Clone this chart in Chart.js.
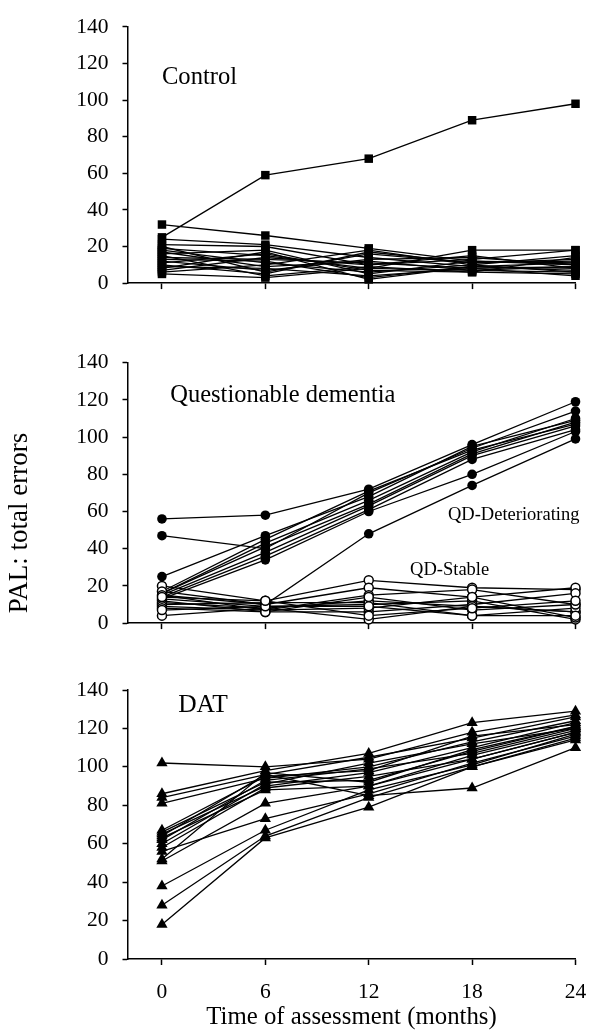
<!DOCTYPE html>
<html>
<head>
<meta charset="utf-8">
<script src="https://cdn.jsdelivr.net/npm/chart.js@4.4.1/dist/chart.umd.min.js"></script>
<style>
  body { margin: 0; background: #fff; }
  #wrap { position: relative; width: 595px; height: 1032px; }
  canvas { position: absolute; left: 0; }
</style>
</head>
<body>
<div id="wrap">
  <canvas id="control" width="595" height="310" style="top:0"></canvas>
  <canvas id="qd" width="595" height="340" style="top:310px"></canvas>
  <canvas id="dat" width="595" height="382" style="top:650px"></canvas>
</div>
<script>
// assessment times (months)
const months = [0, 6, 12, 18, 24];
const yTicks = [0, 20, 40, 60, 80, 100, 120, 140];

// PAL total errors per subject, one row per subject (0, 6, 12, 18, 24 months)
const controlErrors = [
  [32, 26, 19, 12, 10],
  [25, 59, 68, 89, 98],
  [24, 21, 14, 9, 8],
  [21, 20, 10, 13, 18],
  [20, 6, 16, 11, 12],
  [19, 15, 8, 18, 18],
  [18, 11, 6, 10, 6],
  [17, 9, 12, 7, 9],
  [16, 18, 5, 12, 11],
  [15, 4, 9, 6, 14],
  [14, 13, 11, 8, 4],
  [13, 12, 3, 9, 7],
  [12, 7, 13, 14, 10],
  [11, 16, 7, 6, 5],
  [10, 5, 17, 11, 13],
  [9, 8, 4, 8, 9],
  [7, 14, 10, 15, 8],
  [6, 10, 18, 10, 15],
  [5, 3, 8, 7, 6],
  [8, 17, 2, 9, 11]
];

const qdDeteriorating = [
  [56, 58, 72, 96, 119],
  [47, 40, 70, 94, 114],
  [25, 47, 68, 95, 109],
  [17, 45, 71, 93, 107],
  [16, 43, 66, 92, 110],
  [15, 38, 63, 90, 106],
  [14, 36, 61, 88, 104],
  [13, 34, 60, 80, 103],
  [16, 41, 64, 91, 108],
  [15, 10, 48, 74, 99]
];

const qdStable = [
  [4, 8, 12, 9, 6],
  [20, 12, 23, 19, 18],
  [17, 10, 19, 14, 19],
  [15, 7, 15, 18, 10],
  [13, 9, 10, 12, 2],
  [12, 6, 6, 10, 16],
  [11, 8, 2, 9, 6],
  [10, 11, 11, 4, 8],
  [9, 7, 8, 14, 3],
  [8, 6, 14, 7, 10],
  [7, 9, 9, 4, 4],
  [14, 12, 4, 8, 12]
];

const datErrors = [
  [102, 100, 104, 118, 127],
  [86, 98, 107, 123, 129],
  [84, 96, 105, 115, 126],
  [81, 94, 100, 113, 124],
  [67, 95, 98, 116, 122],
  [66, 92, 93, 108, 121],
  [65, 90, 97, 110, 123],
  [63, 88, 90, 106, 119],
  [60, 91, 102, 112, 120],
  [58, 89, 95, 104, 118],
  [56, 73, 86, 102, 116],
  [52, 97, 92, 109, 121],
  [51, 81, 90, 104, 118],
  [62, 93, 99, 107, 120],
  [64, 96, 85, 89, 110],
  [38, 67, 88, 101, 117],
  [28, 64, 84, 100, 114],
  [18, 63, 79, 100, 115]
];

const serif = 'Liberation Serif';

// text notes placed in data coordinates, plus an optional rotated axis caption
const notes = {
  id: 'notes',
  afterDraw(chart, args, opts) {
    const { ctx } = chart;
    const { x, y } = chart.scales;
    ctx.save();
    ctx.fillStyle = '#000';
    ctx.textBaseline = 'alphabetic';
    ctx.textAlign = 'left';
    (opts.items || []).forEach(n => {
      ctx.font = n.size + 'px "' + serif + '"';
      ctx.fillText(n.text, x.getPixelForValue(n.x), y.getPixelForValue(n.y));
    });
    if (opts.yTitle) {
      const t = opts.yTitle;
      ctx.font = t.size + 'px "' + serif + '"';
      ctx.translate(t.px, t.py);
      ctx.rotate(-Math.PI / 2);
      ctx.textAlign = 'center';
      ctx.textBaseline = 'middle';
      ctx.fillText(t.text, 0, 0);
    }
    ctx.restore();
  }
};

function toPoints(row) {
  return row.map((v, i) => ({ x: months[i], y: v }));
}

function lineSets(rows) {
  return rows.map(r => ({
    data: toPoints(r),
    showLine: true,
    borderColor: '#000',
    borderWidth: 1.3,
    pointRadius: 0,
    order: 1,
    clip: false
  }));
}

function markSet(rows, style) {
  return Object.assign({
    data: rows.flatMap(toPoints),
    showLine: false,
    order: 0,
    clip: false
  }, style);
}

function scalesFor(showX, xHeight) {
  return {
    x: {
      type: 'linear',
      min: -2,
      max: 24,
      afterBuildTicks: s => { s.ticks = months.map(v => ({ value: v })); },
      afterFit: s => {
        s.height = xHeight;
        s.paddingLeft = 0;
        s.paddingRight = 0;
      },
      grid: { drawOnChartArea: false, drawTicks: true, tickLength: 6, tickColor: '#000', tickWidth: 1.5 },
      border: { color: '#000', width: 1.5 },
      ticks: { display: showX, padding: 14, color: '#000', font: { family: serif, size: 21.5 } },
      title: {
        display: showX,
        text: 'Time of assessment (months)',
        color: '#000',
        font: { family: serif, size: 24.8 },
        padding: { top: 0, bottom: 0 }
      }
    },
    y: {
      min: 0,
      max: 140,
      afterBuildTicks: s => { s.ticks = yTicks.map(v => ({ value: v })); },
      afterFit: s => { s.width = 127.5; },
      grid: { drawOnChartArea: false, drawTicks: true, tickLength: 5, tickColor: '#000', tickWidth: 1.5 },
      border: { color: '#000', width: 1.5 },
      ticks: { padding: 14, color: '#000', font: { family: serif, size: 21.5 } }
    }
  };
}

function makePanel(id, datasets, padTop, showX, xHeight, notesOpts) {
  return new Chart(document.getElementById(id), {
    type: 'scatter',
    data: { datasets },
    options: {
      responsive: false,
      animation: false,
      layout: { padding: { top: padTop, right: 19.5, left: 0, bottom: 0 } },
      scales: scalesFor(showX, xHeight),
      plugins: {
        legend: { display: false },
        tooltip: { enabled: false },
        notes: notesOpts
      }
    },
    plugins: [notes]
  });
}

makePanel('control', [
  ...lineSets(controlErrors),
  markSet(controlErrors, { pointStyle: 'rect', pointRadius: 6, backgroundColor: '#000', borderWidth: 0 })
], 24, false, 15, {
  items: [{ text: 'Control', x: 0, y: 108.8, size: 24.6 }]
});

makePanel('qd', [
  ...lineSets(qdDeteriorating),
  ...lineSets(qdStable),
  markSet(qdStable, { pointStyle: 'circle', pointRadius: 4.5, backgroundColor: '#fff', borderColor: '#000', borderWidth: 1.5 }),
  markSet(qdDeteriorating, { pointStyle: 'circle', pointRadius: 4.8, backgroundColor: '#000', borderWidth: 0 })
], 52.7, false, 16.7, {
  items: [
    { text: 'Questionable dementia', x: 0.48, y: 119, size: 24.5 },
    { text: 'QD-Deteriorating', x: 16.6, y: 55.5, size: 18.5 },
    { text: 'QD-Stable', x: 14.4, y: 26, size: 18.5 }
  ],
  yTitle: { text: 'PAL: total errors', px: 20, py: 213, size: 27 }
});

makePanel('dat', [
  ...lineSets(datErrors),
  markSet(datErrors, { pointStyle: 'triangle', pointRadius: 6.5, backgroundColor: '#000', borderWidth: 0 })
], 40, true, 73, {
  items: [{ text: 'DAT', x: 0.94, y: 128.7, size: 25.5 }]
});
</script>
</body>
</html>
